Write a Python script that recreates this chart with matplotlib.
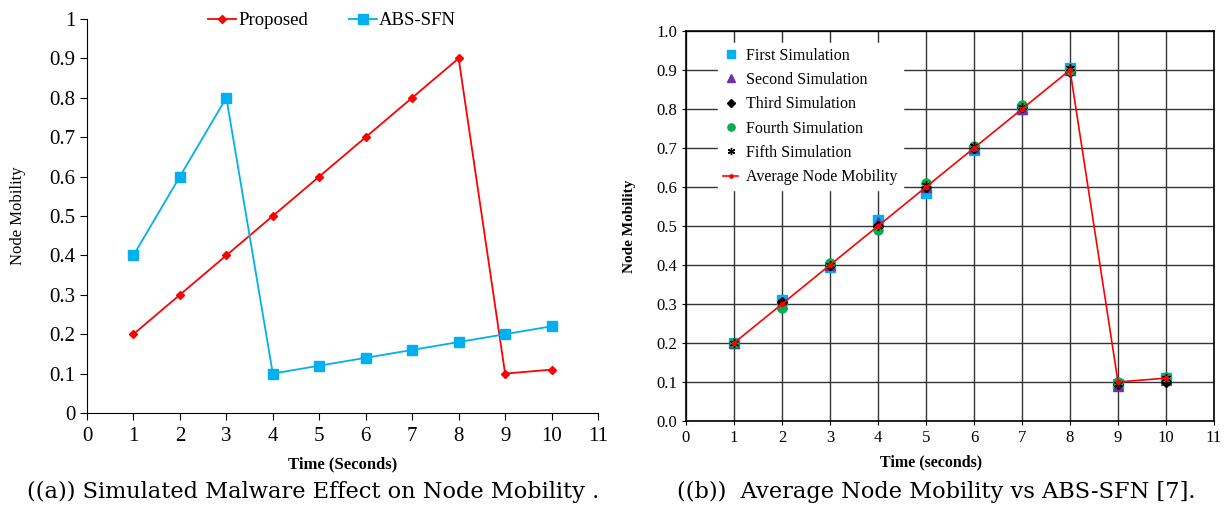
import matplotlib.pyplot as plt
import numpy as np

# tiempo de simulacion (segundos)
t = [1, 2, 3, 4, 5, 6, 7, 8, 9, 10]

# panel (a)
proposed = [0.2, 0.3, 0.4, 0.5, 0.6, 0.7, 0.8, 0.9, 0.1, 0.11]
abs_sfn = [0.4, 0.6, 0.8, 0.1, 0.12, 0.14, 0.16, 0.18, 0.2, 0.22]

# panel (b): cinco simulaciones y su promedio
sim1 = [0.2, 0.31, 0.395, 0.515, 0.585, 0.695, 0.80, 0.905, 0.095, 0.11]
sim2 = [0.2, 0.30, 0.40, 0.51, 0.60, 0.70, 0.80, 0.90, 0.09, 0.105]
sim3 = [0.2, 0.305, 0.40, 0.50, 0.60, 0.70, 0.805, 0.895, 0.095, 0.10]
sim4 = [0.2, 0.29, 0.405, 0.49, 0.61, 0.705, 0.81, 0.90, 0.10, 0.112]
sim5 = [0.2, 0.305, 0.40, 0.50, 0.605, 0.705, 0.805, 0.905, 0.095, 0.11]
average = [0.2, 0.3, 0.4, 0.5, 0.6, 0.7, 0.8, 0.9, 0.1, 0.11]

RED = '#ff0000'
BLUE = '#00b0f0'
PURPLE = '#7030a0'
GREEN = '#00b050'

plt.rcParams['font.family'] = ['Liberation Serif', 'DejaVu Serif']

fig = plt.figure(figsize=(12.32, 5.12), dpi=100)

# ---- panel (a) ----
ax1 = fig.add_axes([0.0706, 0.1934, 0.4148, 0.7696])
ax1.plot(t, proposed, color=RED, marker='D', markersize=4.5, lw=1.3, label='Proposed')
ax1.plot(t, abs_sfn, color=BLUE, marker='s', markersize=6.5, lw=1.3, label='ABS-SFN')
ax1.set_xlim(0, 11)
ax1.set_ylim(0, 1)
ax1.set_xticks(range(0, 12))
ax1.set_yticks(np.arange(0, 1.01, 0.1))
ax1.set_yticklabels(['0', '0.1', '0.2', '0.3', '0.4', '0.5', '0.6', '0.7', '0.8', '0.9', '1'])
ax1.spines['top'].set_visible(False)
ax1.spines['right'].set_visible(False)
ax1.tick_params(direction='out', length=5, labelsize=15)
ax1.tick_params(axis='x', pad=5)
ax1.set_xlabel('Time (Seconds)', fontsize=12, fontweight='bold')
ax1.set_ylabel('Node Mobility', fontsize=12)
ax1.yaxis.set_label_coords(-0.12, 0.5)
ax1.xaxis.set_label_coords(0.5, -0.11)
ax1.legend(loc='upper center', ncol=2, frameon=False, fontsize=13.5,
           bbox_to_anchor=(0.48, 1.06), handlelength=1.5, handletextpad=0.1,
           columnspacing=2.2)

# ---- panel (b) ----
ax2 = fig.add_axes([0.5568, 0.1777, 0.4286, 0.7618])
ax2.plot(t, sim1, ls='none', marker='s', color=BLUE, markersize=6.5, label='First Simulation')
ax2.plot(t, sim2, ls='none', marker='^', color=PURPLE, markersize=6.5, label='Second Simulation')
ax2.plot(t, sim3, ls='none', marker='D', color='black', markersize=5, label='Third Simulation')
ax2.plot(t, sim4, ls='none', marker='o', color=GREEN, markersize=6.5, label='Fourth Simulation')
ax2.plot(t, sim5, ls='none', marker=(6, 2, 0), color='black', markersize=6.5, label='Fifth Simulation')
ax2.plot(t, average, color=RED, marker='o', markersize=3, lw=1.2, label='Average Node Mobility')
ax2.set_xlim(0, 11)
ax2.set_ylim(0, 1)
ax2.set_xticks(range(0, 12))
ax2.set_yticks(np.arange(0, 1.01, 0.1))
ax2.set_yticklabels(['%.1f' % v for v in np.arange(0, 1.01, 0.1)])
ax2.grid(True, color='#333333', lw=1.0)
ax2.set_axisbelow(True)
for s in ax2.spines.values():
    s.set_linewidth(1.2)
ax2.tick_params(direction='out', length=3, labelsize=12)
ax2.set_xlabel('Time (seconds)', fontsize=11.5, fontweight='bold')
ax2.set_ylabel('Node Mobility', fontsize=11, fontweight='bold')
ax2.xaxis.set_label_coords(0.465, -0.085)
ax2.yaxis.set_label_coords(-0.095, 0.5)
leg = ax2.legend(loc='upper left', bbox_to_anchor=(0.045, 0.99), fontsize=11.5,
                 fancybox=False, framealpha=1, edgecolor='white',
                 handlelength=1.0, handletextpad=0.5, labelspacing=0.52,
                 borderpad=0.3, markerscale=0.8)

# captions
fig.text(0.254, 0.028, '((a)) Simulated Malware Effect on Node Mobility .', ha='center',
         fontsize=16.2, family='DejaVu Serif')
fig.text(0.76, 0.028, '((b))  Average Node Mobility vs ABS-SFN [7].', ha='center',
         fontsize=16.2, family='DejaVu Serif')

fig.savefig('out.png', dpi=100)
